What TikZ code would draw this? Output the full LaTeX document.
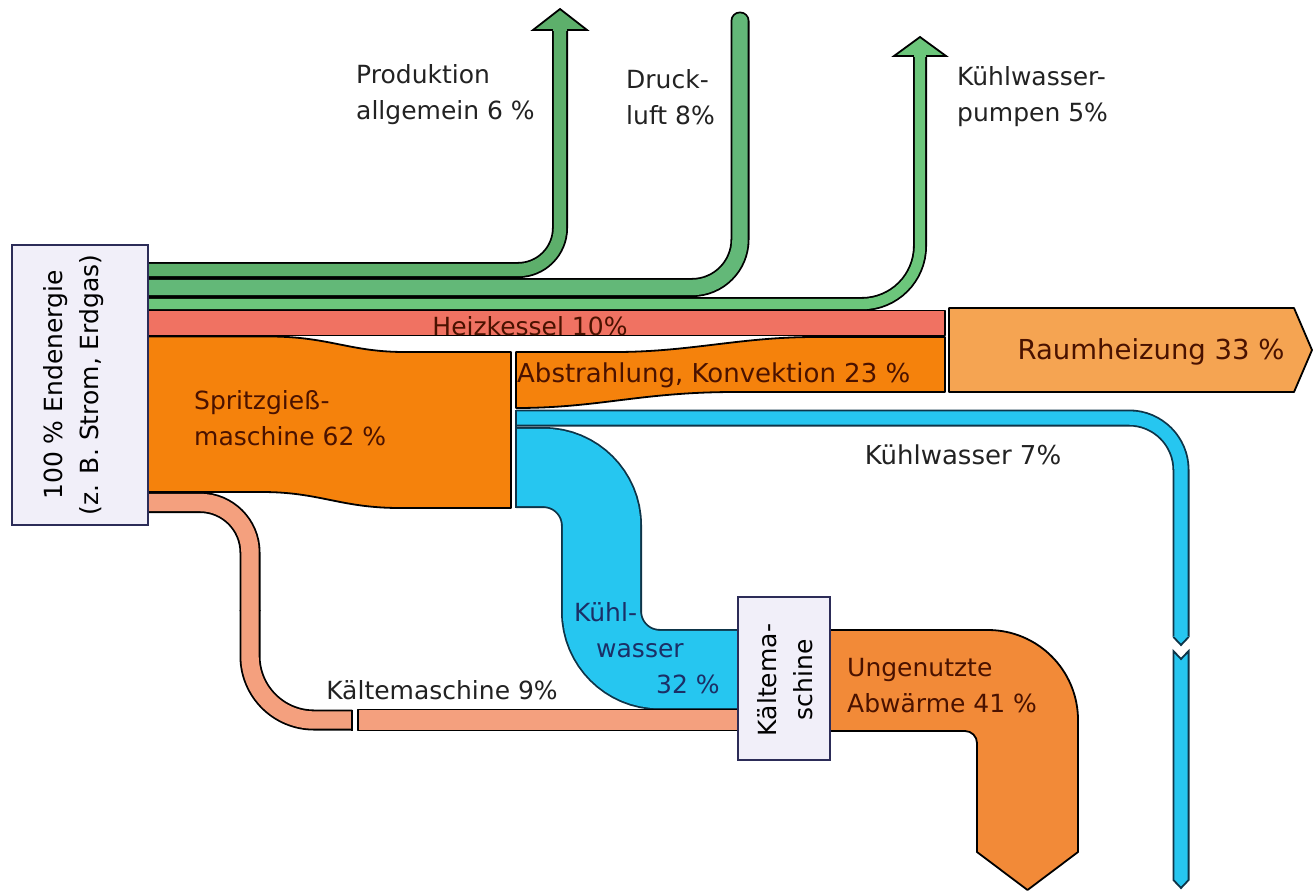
\documentclass[tikz,border=0pt]{standalone}
\usepackage{fontspec}
\setmainfont{DejaVu Sans}

\definecolor{gA}{HTML}{5DAF6B}
\definecolor{gB}{HTML}{63B878}
\definecolor{gC}{HTML}{6CC67B}
\definecolor{heiz}{HTML}{F07262}
\definecolor{oraA}{HTML}{F5820C}
\definecolor{raum}{HTML}{F5A452}
\definecolor{abw}{HTML}{F28A38}
\definecolor{kalt}{HTML}{F4A07E}
\definecolor{cyanA}{HTML}{26C6F0}
\definecolor{cyline}{HTML}{0E3448}
\definecolor{boxfill}{HTML}{F1EFF9}
\definecolor{boxline}{HTML}{2C2C58}
\definecolor{ink}{HTML}{222222}
\definecolor{labbrown}{HTML}{4A1200}
\definecolor{navy}{HTML}{1B2F66}

% arrow head pointing up: colour, x, base y, tip y, half head width, half shaft width
\newcommand\upArrowHead[6]{%
  \fill[#1] (#2-#6,#3+0.8) -- (#2-#6,#3) -- (#2-#5,#3) -- (#2,#4) -- (#2+#5,#3) -- (#2+#6,#3) -- (#2+#6,#3+0.8) -- cycle;
  \draw[line width=1.8pt, line join=miter] (#2-#6,#3) -- (#2-#5,#3) -- (#2,#4) -- (#2+#5,#3) -- (#2+#6,#3);}

\begin{document}
\begin{tikzpicture}[x=1pt, y=-1pt,
  lbl/.style={font=\fontsize{25}{36}\selectfont, inner sep=0pt, align=left, text=ink},
  band/.style={draw=black, line width=1.8pt, line join=round, fill=#1},
  pipe/.style n args={3}{draw=#3, line width=1.8pt, double=#1, double distance=#2},
  srcbox/.style={draw=boxline, line width=1.8pt, fill=boxfill, inner sep=0pt},
  boxtext/.style={align=center, inner sep=0pt, font=\fontsize{25}{36}\selectfont, text=black}]
\useasboundingbox (0,0) rectangle (1314,892);

% ---- green branches: Produktion, Druckluft, Kuehlwasserpumpen
\draw[pipe={gA}{12.4pt}{black}, rounded corners=42pt] (145,270) -- (560,270) -- (560,30);
\upArrowHead{gA}{560}{30}{9}{27}{7.1}
\draw[pipe={gB}{15.4pt}{black}, rounded corners=48pt, line cap=round] (140,287.5) -- (740,287.5) -- (740,21);
\draw[pipe={gC}{10.4pt}{black}, rounded corners=58pt] (145,304) -- (920,304) -- (920,56);
\upArrowHead{gC}{920}{56}{37}{26}{6.1}

% ---- Heizkessel and Raumheizung
\draw[band=heiz] (148,310.5) rectangle (945,335.5);
\draw[band=raum] (949,308) -- (1294,308) -- (1312,350) -- (1294,392) -- (949,392) -- cycle;

% ---- Spritzgiessmaschine
\draw[band=oraA] (148,336.5) -- (272,336.5) .. controls (330,337) and (350,352) .. (405,352)
  -- (511,352) -- (511,508) -- (400,508) .. controls (340,508) and (320,492) .. (262,492)
  -- (148,492) -- cycle;

% ---- Abstrahlung, Konvektion
\draw[band=oraA] (516,352) -- (615,352) .. controls (690,352) and (740,337) .. (815,337)
  -- (945,337) -- (945,392) -- (735,392) .. controls (640,392) and (600,408) .. (516,408) -- cycle;

% ---- Kuehlwasser 7 %
\draw[pipe={cyanA}{13.4pt}{cyline}, rounded corners=52pt] (516,418) -- (1181,418) -- (1181,637);
\fill[cyanA] (1181-7.6,636.2) -- (1181-7.6,637) -- (1181,645) -- (1181+7.6,637) -- (1181+7.6,636.2) -- cycle;
\draw[cyline, line width=1.8pt] (1181-7.6,637) -- (1181,645) -- (1181+7.6,637);
\draw[draw=cyline, line width=1.8pt, fill=cyanA] (1173.4,651) -- (1181,659) -- (1188.6,651)
  -- (1188.6,880) -- (1181,888) -- (1173.4,880) -- cycle;

% ---- Kuehlwasser 32 %
\draw[pipe={cyanA}{77.4pt}{cyline}, rounded corners=58pt] (516,467.5) -- (601.5,467.5) -- (601.5,669.5) -- (745,669.5);
\draw[cyline, line width=1.8pt] (516,410) -- (516,508);

% ---- Kaeltemaschine 9 %
\draw[pipe={kalt}{17.4pt}{black}, rounded corners=50pt] (145,502.5) -- (250,502.5) -- (250,611);
\draw[pipe={kalt}{17.4pt}{black}, rounded corners=64pt] (250,610) -- (250,720) -- (352,720);
\draw[line width=1.8pt] (352,709.5) -- (352,730.5);
\draw[band=kalt] (358,709.5) rectangle (745,730.5);

% ---- Ungenutzte Abwaerme
\draw[band=abw] (825,630) -- (988,630) .. controls (1037.7,630) and (1078,670.3) .. (1078,720)
  -- (1078,852) -- (1027.5,890) -- (977,852) -- (977,743)
  .. controls (977,736.4) and (971.6,731) .. (965,731) -- (825,731) -- cycle;

% ---- boxes
\node[srcbox, minimum width=136pt, minimum height=280pt] (src) at (80,385) {};
\node[boxtext, rotate=90] (srctext) at (74,385) {100 \% Endenergie\\(z. B. Strom, Erdgas)};
\node[srcbox, minimum width=92pt, minimum height=163pt] (km) at (784,678.5) {};
\node[boxtext, rotate=90] (kmtext) at (785,680) {Kältema-\\schine};

% ---- labels
\node[lbl, anchor=west] (lprod) at (356,95) {Produktion\\allgemein 6 \%};
\node[lbl, anchor=west] (ldruck) at (626,97) {Druck-\\luft 8\%};
\node[lbl, anchor=west] (lpump) at (957,97) {Kühlwasser-\\pumpen 5\%};
\node[lbl, text=labbrown] (lheiz) at (530,326) {Heizkessel 10\%};
\node[lbl, anchor=west, text=labbrown] (lsgm) at (194,418) {Spritzgieß-\\maschine 62 \%};
\node[lbl, anchor=west, text=labbrown, font=\fontsize{26}{36}\selectfont] (labs) at (517,375) {Abstrahlung, Konvektion 23 \%};
\node[lbl, text=labbrown, font=\fontsize{27.5}{36}\selectfont] (lraum) at (1151,352) {Raumheizung 33 \%};
\node[lbl, font=\fontsize{26}{36}\selectfont] (lkw7) at (963,455) {Kühlwasser 7\%};
\node[lbl, anchor=west, text=navy] (lkw32) at (574,648) {Kühl-\\\hspace*{22pt}wasser\\\hspace*{82pt}32 \%};
\node[lbl] (lkm9) at (442,690) {Kältemaschine 9\%};
\node[lbl, anchor=west, text=labbrown] (labw) at (847,686) {Ungenutzte\\Abwärme 41 \%};
\end{tikzpicture}
\end{document}
